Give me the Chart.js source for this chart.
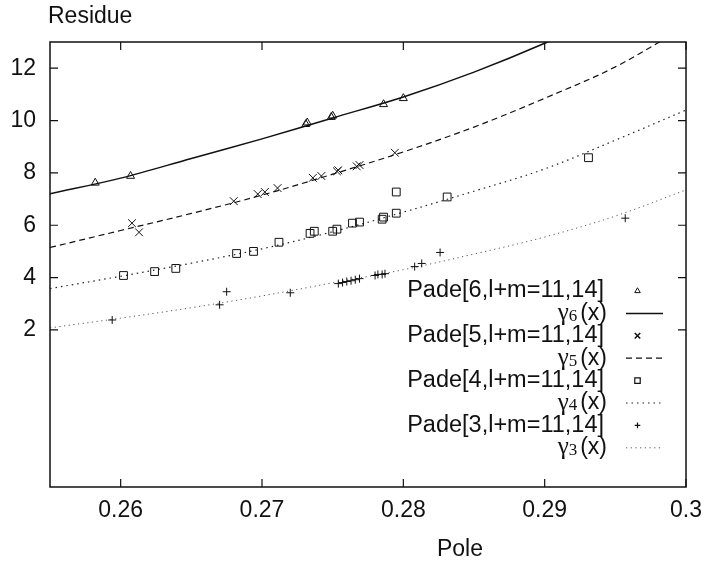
<!DOCTYPE html>
<html>
<head>
<meta charset="UTF-8">
<title>Residue vs Pole</title>
<script src="https://cdn.jsdelivr.net/npm/chart.js@4"></script>
<style>
  html, body { margin: 0; padding: 0; background: #fff; }
  #wrap { width: 712px; height: 563px; }
</style>
</head>
<body>
<div id="wrap"><canvas id="poleChart"></canvas></div>
<script>
// axes
const xTicks = [0.26, 0.27, 0.28, 0.29, 0.3];
const xTickLabels = ['0.26', '0.27', '0.28', '0.29', '0.3'];
const yTicks = [2, 4, 6, 8, 10, 12];
const yTickLabels = ['2', '4', '6', '8', '10', '12'];

// Pade points
const pade6X = [0.2582, 0.2607, 0.2731, 0.2732, 0.2749, 0.2750, 0.2786, 0.2800];
const pade6Y = [7.62, 7.88, 9.86, 9.92, 10.13, 10.18, 10.62, 10.85];
const pade5X = [0.2608, 0.2613, 0.2680, 0.2697, 0.2702, 0.2711, 0.2736, 0.2742, 0.2753, 0.2754, 0.2767, 0.2769, 0.2794];
const pade5Y = [6.08, 5.73, 6.92, 7.19, 7.27, 7.42, 7.81, 7.88, 8.06, 8.10, 8.25, 8.30, 8.77];
const pade4X = [0.2602, 0.2624, 0.2639, 0.2682, 0.2694, 0.2712, 0.2734, 0.2737, 0.2750, 0.2753, 0.2764, 0.2769, 0.2785, 0.2786, 0.2795, 0.2795, 0.2831, 0.2931];
const pade4Y = [4.08, 4.23, 4.35, 4.92, 5.00, 5.35, 5.69, 5.77, 5.77, 5.85, 6.08, 6.12, 6.23, 6.31, 6.46, 7.27, 7.08, 8.58];
const pade3X = [0.2594, 0.2670, 0.2675, 0.2720, 0.2754, 0.2757, 0.2760, 0.2763, 0.2766, 0.2769, 0.2780, 0.2782, 0.2785, 0.2787, 0.2808, 0.2813, 0.2826, 0.2957];
const pade3Y = [2.38, 2.96, 3.46, 3.42, 3.77, 3.81, 3.85, 3.88, 3.92, 3.96, 4.08, 4.12, 4.12, 4.15, 4.42, 4.54, 4.96, 6.27];

// gamma curves
const gammaX = [0.255, 0.26, 0.265, 0.27, 0.275, 0.28, 0.285, 0.29, 0.295, 0.3];
const gamma6Y = [7.20, 7.80, 8.55, 9.30, 10.10, 10.90, 11.85, 12.95, 14.20, 15.60];
const gamma5Y = [5.15, 5.80, 6.45, 7.15, 7.95, 8.80, 9.75, 10.85, 12.05, 13.60];
const gamma4Y = [3.58, 4.05, 4.55, 5.10, 5.75, 6.50, 7.30, 8.15, 9.25, 10.40];
const gamma3Y = [2.08, 2.45, 2.85, 3.30, 3.80, 4.30, 4.90, 5.55, 6.35, 7.35];

const labels = ['Pade[6,l+m=11,14]', 'γ6(x)', 'Pade[5,l+m=11,14]', 'γ5(x)',
                'Pade[4,l+m=11,14]', 'γ4(x)', 'Pade[3,l+m=11,14]', 'γ3(x)'];

const pts = (xs, ys) => xs.map((x, i) => ({ x: x, y: ys[i] }));

function markers(label, xs, ys, style, r) {
    return {
        label: label, data: pts(xs, ys), showLine: false,
        pointStyle: style, pointRadius: r, pointHoverRadius: r,
        pointBorderColor: '#111', pointBackgroundColor: 'rgba(0,0,0,0)',
        pointBorderWidth: 1
    };
}
function curve(label, ys, dash, width, color) {
    return {
        label: label, data: pts(gammaX, ys), showLine: true,
        borderColor: color, borderWidth: width, borderDash: dash,
        pointRadius: 0, tension: 0.35, fill: false
    };
}

const FONT = "'Liberation Sans', Arial, sans-serif";

// frame with inward ticks on all four sides
const framePlugin = {
    id: 'frame',
    afterDatasetsDraw(chart) {
        const { ctx, chartArea: a, scales } = chart;
        ctx.save();
        ctx.strokeStyle = '#111';
        ctx.lineWidth = 1.5;
        ctx.strokeRect(a.left, a.top, a.right - a.left, a.bottom - a.top);
        ctx.lineWidth = 1.2;
        ctx.beginPath();
        scales.x.ticks.forEach(t => {
            const px = scales.x.getPixelForValue(t.value);
            ctx.moveTo(px, a.bottom); ctx.lineTo(px, a.bottom - 8);
            ctx.moveTo(px, a.top); ctx.lineTo(px, a.top + 8);
        });
        scales.y.ticks.forEach(t => {
            const py = scales.y.getPixelForValue(t.value);
            ctx.moveTo(a.left, py); ctx.lineTo(a.left + 8, py);
            ctx.moveTo(a.right, py); ctx.lineTo(a.right - 8, py);
        });
        ctx.stroke();
        ctx.restore();
    }
};

// axis titles
const titlePlugin = {
    id: 'titles',
    afterDraw(chart) {
        const ctx = chart.ctx;
        ctx.save();
        ctx.fillStyle = '#111';
        ctx.font = '23px ' + FONT;
        ctx.textBaseline = 'middle';
        ctx.textAlign = 'left';
        ctx.fillText('Residue', 48, 17);
        ctx.textAlign = 'center';
        ctx.fillText('Pole', 460, 550);
        ctx.restore();
    }
};

// gnuplot-like key: text right aligned, sample to the right
const keyPlugin = {
    id: 'key',
    afterDraw(chart) {
        const ctx = chart.ctx;
        const textRight = 604, sx0 = 626, sx1 = 663, y0 = 291, dy = 22.4;
        ctx.save();
        ctx.textBaseline = 'middle';
        chart.data.datasets.forEach((ds, i) => {
            const y = y0 + i * dy;
            const lab = ds.label;
            ctx.fillStyle = '#111';
            if (lab.charAt(0) === 'γ') {
                const g = 'γ', sub = lab.charAt(1), rest = lab.slice(2);
                ctx.font = "25px 'Liberation Serif', serif";
                const wg = ctx.measureText(g).width;
                ctx.font = "17px 'Liberation Serif', serif";
                const ws = ctx.measureText(sub).width;
                ctx.font = "23px " + FONT;
                const wr = ctx.measureText(rest).width;
                let x = textRight + 3 - (wg + ws + wr + 3);
                ctx.textAlign = 'left';
                ctx.font = "25px 'Liberation Serif', serif";
                ctx.fillText(g, x, y);
                x += wg;
                ctx.font = "17px 'Liberation Serif', serif";
                ctx.fillText(sub, x, y + 3);
                x += ws + 3;
                ctx.font = "23px " + FONT;
                ctx.fillText(rest, x, y);
            } else {
                ctx.textAlign = 'right';
                ctx.font = '23.5px ' + FONT;
                ctx.fillText(lab, textRight, y);
            }
            ctx.strokeStyle = ds.showLine ? ds.borderColor : '#111';
            if (ds.showLine) {
                ctx.lineWidth = ds.borderWidth;
                ctx.setLineDash(ds.borderDash);
                ctx.beginPath();
                ctx.moveTo(sx0, y); ctx.lineTo(sx1, y);
                ctx.stroke();
                ctx.setLineDash([]);
            } else {
                ctx.fillStyle = 'rgba(0,0,0,0)';
                Chart.helpers.drawPoint(ctx, {
                    pointStyle: ds.pointStyle, radius: ds.pointRadius * 0.7,
                    rotation: 0, borderWidth: 1
                }, (sx0 + sx1) / 2 - 7, y);
            }
        });
        ctx.restore();
    }
};

const ctx = document.getElementById('poleChart').getContext('2d');
const poleChart = new Chart(ctx, {
    type: 'scatter',
    data: {
        datasets: [
            markers(labels[0], pade6X, pade6Y, 'triangle', 4.6),
            curve(labels[1], gamma6Y, [], 1.5, '#111'),
            markers(labels[2], pade5X, pade5Y, 'crossRot', 5.5),
            curve(labels[3], gamma5Y, [6, 4], 1.2, '#111'),
            markers(labels[4], pade4X, pade4Y, 'rect', 5.5),
            curve(labels[5], gamma4Y, [1.5, 4], 1.2, '#222'),
            markers(labels[6], pade3X, pade3Y, 'cross', 4),
            curve(labels[7], gamma3Y, [1.2, 3.5], 1, '#555')
        ]
    },
    options: {
        responsive: true,
        maintainAspectRatio: false,
        animation: false,
        layout: { padding: { top: 42, right: 19, left: 0, bottom: 0 } },
        plugins: { legend: { display: false }, tooltip: { enabled: false } },
        scales: {
            x: {
                type: 'linear', min: 0.255, max: 0.3,
                afterBuildTicks: s => { s.ticks = xTicks.map(v => ({ value: v })); },
                afterFit: s => { s.height = 76; },
                ticks: {
                    callback: (v, i) => xTickLabels[i],
                    font: { family: FONT, size: 23 }, color: '#111', padding: 10,
                    maxRotation: 0
                },
                grid: { display: false, drawTicks: false },
                border: { display: false }
            },
            y: {
                type: 'linear', min: -4, max: 13,
                afterBuildTicks: s => { s.ticks = yTicks.map(v => ({ value: v })); },
                afterFit: s => { s.width = 50; },
                ticks: {
                    callback: (v, i) => yTickLabels[i],
                    font: { family: FONT, size: 23 }, color: '#111', padding: 14
                },
                grid: { display: false, drawTicks: false },
                border: { display: false }
            }
        }
    },
    plugins: [framePlugin, titlePlugin, keyPlugin]
});
</script>
</body>
</html>
